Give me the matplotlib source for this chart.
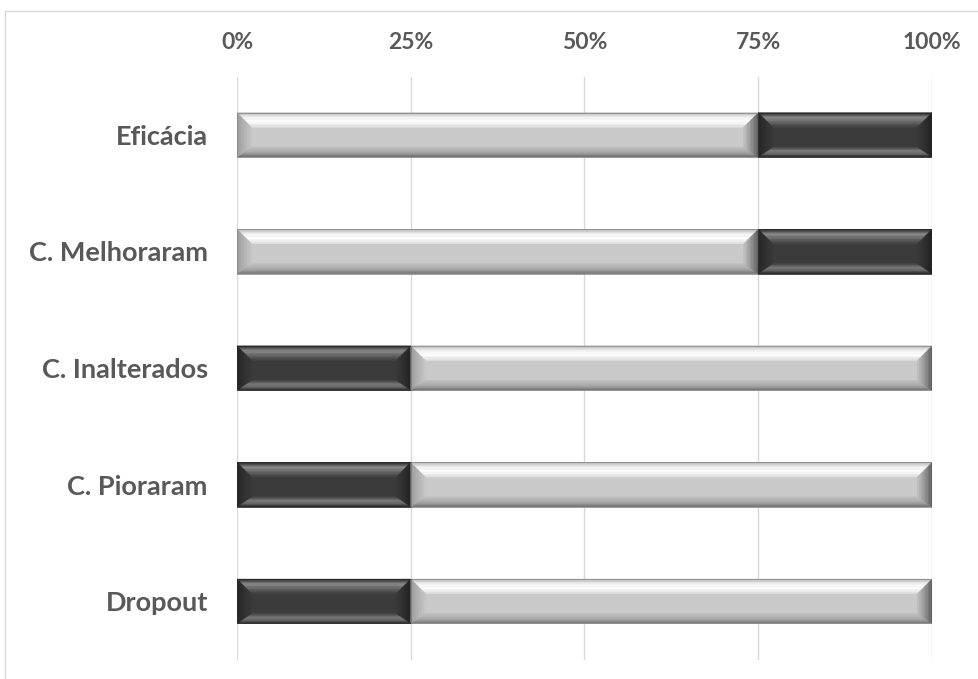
import numpy as np
import matplotlib
matplotlib.use('Agg')
import matplotlib.pyplot as plt
from matplotlib.patches import Polygon, Rectangle
from matplotlib.lines import Line2D
from matplotlib.colors import to_rgb

categories = ['Eficácia', 'C. Melhoraram', 'C. Inalterados', 'C. Pioraram', 'Dropout']
first_part = [75, 75, 25, 25, 25]
second_part = [25, 25, 75, 75, 75]
first_shade = ['light', 'light', 'dark', 'dark', 'dark']
ticks = [0, 25, 50, 75, 100]
tick_labels = ['0%', '25%', '50%', '75%', '100%']

# bevel palettes: colour stops from the outer edge inwards for each side
shades = {
    'light': {
        'face': '#c9c9c9',
        'top': ['#bdbdbd', '#f4f4f4', '#ffffff', '#e2e2e2'],
        'bottom': ['#6f6f6f', '#9a9a9a', '#b0b0b0', '#bcbcbc'],
        'left': ['#9c9c9c', '#aaaaaa', '#b8b8b8', '#c4c4c4'],
        'right': ['#5e5e5e', '#808080', '#a0a0a0', '#bcbcbc'],
    },
    'dark': {
        'face': '#3b3b3b',
        'top': ['#2e2e2e', '#8c8c8c', '#6a6a6a', '#464646'],
        'bottom': ['#2a2a2a', '#6a6a6a', '#7c7c7c', '#4a4a4a'],
        'left': ['#262626', '#2c2c2c', '#333333', '#383838'],
        'right': ['#222222', '#2a2a2a', '#323232', '#383838'],
    },
}

BX = 2.1      # horizontal bevel, in % units
BT = 0.125    # top bevel, in category units
BB = 0.085    # bottom bevel
H = 0.38


def lerp_colors(stops, n):
    stops = np.array([to_rgb(c) for c in stops])
    pos = np.linspace(0, 1, len(stops))
    t = np.linspace(0, 1, n)
    return [tuple(np.interp(tt, pos, stops[:, k]) for k in range(3)) for tt in t]


def bevel_bar(ax, left, width, yc, pal, steps=10):
    x0, x1 = left, left + width
    # y axis is inverted: "top" of the bar is the smaller y value
    yt, yb = yc - H / 2, yc + H / 2
    ax.add_patch(Rectangle((x0, yt), width, H, facecolor=pal['face'],
                           edgecolor='none', zorder=3))

    def inner(t):
        return (x0 + t * BX, x1 - t * BX, yt + t * BT, yb - t * BB)

    ts = np.linspace(0, 1, steps + 1)
    cols = {s: lerp_colors(pal[s], steps) for s in ('top', 'bottom', 'left', 'right')}
    for k in range(steps):
        a0, a1 = ts[k], ts[k + 1]
        l0, r0, t0, b0 = inner(a0)
        l1, r1, t1, b1 = inner(a1)
        polys = {
            'top': [(l0, t0), (r0, t0), (r1, t1), (l1, t1)],
            'bottom': [(l0, b0), (r0, b0), (r1, b1), (l1, b1)],
            'left': [(l0, t0), (l1, t1), (l1, b1), (l0, b0)],
            'right': [(r0, t0), (r1, t1), (r1, b1), (r0, b0)],
        }
        for side, pts in polys.items():
            ax.add_patch(Polygon(pts, closed=True, facecolor=cols[side][k],
                                 edgecolor=cols[side][k], linewidth=0.3, zorder=3))
    ax.add_patch(Rectangle((x0, yt), width, H, facecolor='none',
                           edgecolor='#8a8a8a' if pal is shades['light'] else '#2a2a2a',
                           linewidth=0.6, zorder=4))


fig = plt.figure(figsize=(9.79, 6.79), dpi=100)
W, Hpx = 979, 679
ax = fig.add_axes([237 / W, 1 - 659.5 / Hpx, (932 - 237) / W, (659.5 - 76.5) / Hpx])

y = np.arange(len(categories))
for i in range(len(categories)):
    s1 = first_shade[i]
    s2 = 'dark' if s1 == 'light' else 'light'
    bevel_bar(ax, 0, first_part[i], y[i], shades[s1])
    bevel_bar(ax, first_part[i], second_part[i], y[i], shades[s2])

ax.set_xlim(0, 100)
ax.set_ylim(len(categories) - 0.5, -0.5)
ax.set_xticks(ticks)
ax.set_xticklabels(tick_labels)
ax.set_yticks(y)
ax.set_yticklabels(categories)
ax.xaxis.tick_top()
ax.tick_params(axis='both', length=0, labelcolor='#595959')
ax.tick_params(axis='x', pad=17, labelsize=16.5)
ax.tick_params(axis='y', pad=21, labelsize=19.5)
for lab in ax.get_xticklabels() + ax.get_yticklabels():
    lab.set_fontfamily('Lato')
    lab.set_fontweight('bold')
ax.grid(axis='x', color='#d9d9d9', linewidth=1)
ax.set_axisbelow(True)
for sp in ax.spines.values():
    sp.set_visible(False)

# chart area frame (only left and top edges fall inside the image)
fig.add_artist(Line2D([5 / W, 5 / W], [0, 1 - 11 / Hpx], transform=fig.transFigure,
                      color='#d9d9d9', linewidth=1))
fig.add_artist(Line2D([5 / W, 1], [1 - 11 / Hpx, 1 - 11 / Hpx], transform=fig.transFigure,
                      color='#d9d9d9', linewidth=1))

fig.savefig('out.png', dpi=100)
